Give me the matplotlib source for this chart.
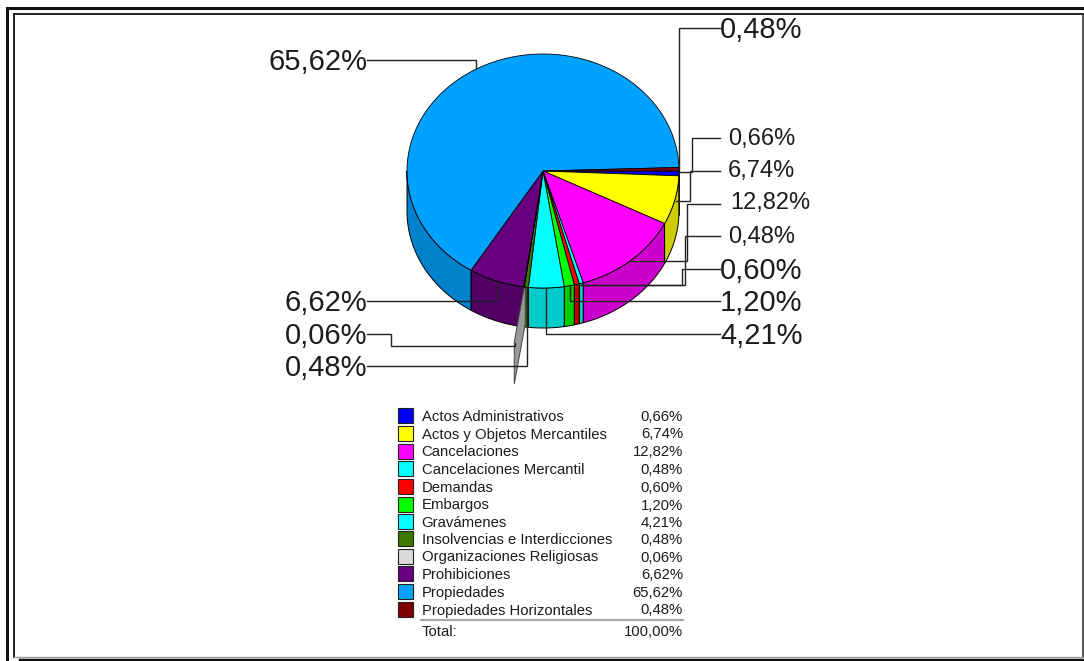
import numpy as np
import matplotlib
matplotlib.use('Agg')
import matplotlib.pyplot as plt
from matplotlib.patches import Polygon, Rectangle

plt.rcParams['font.family'] = ['Liberation Sans', 'DejaVu Sans']

# Data
categories = ['Actos Administrativos', 'Actos y Objetos Mercantiles', 'Cancelaciones',
              'Cancelaciones Mercantil', 'Demandas', 'Embargos', 'Gravámenes',
              'Insolvencias e Interdicciones', 'Organizaciones Religiosas',
              'Prohibiciones', 'Propiedades', 'Propiedades Horizontales']
values = [0.66, 6.74, 12.82, 0.48, 0.60, 1.20, 4.21, 0.48, 0.06, 6.62, 65.62, 0.48]
colors = [(0, 0, 1), (1, 1, 0), (1, 0, 1), (0, 1, 1), (1, 0, 0), (0, 1, 0), (0, 1, 1),
          (0.24, 0.47, 0), (0.86, 0.86, 0.86), (0.4, 0, 0.5), (0, 0.63, 1), (0.5, 0, 0)]
total_label = '100,00%'

# Layout
cx, cy, rx, ry, depth = 543, 171, 136, 117, 40
ink = '#1c1c1c'


def pct(v):
    return f'{v:.2f}'.replace('.', ',') + '%'


def rim(a0, a1, n=60):
    t = np.radians(np.linspace(a0, a1, n))
    return np.column_stack([cx + rx * np.cos(t), cy + ry * np.sin(t)])


fig = plt.figure(figsize=(10.84, 6.61), dpi=100)
ax = fig.add_axes([0, 0, 1, 1])
ax.set_xlim(0, 1084)
ax.set_ylim(661, 0)
ax.axis('off')

# page frame, it runs off the image on the right and bottom
ax.plot([6.5, 6.5, 1084], [661, 7.5, 7.5], color='#111111', lw=2.2, solid_joinstyle='miter')
ax.plot([14, 14, 1084], [656.5, 14, 14], color='#222222', lw=1.4, solid_joinstyle='miter')
ax.plot([1083, 1083], [14, 657], color='#333333', lw=1.2)
ax.plot([14, 1083], [656.5, 656.5], color='#999999', lw=1.0)
ax.plot([20, 1084], [660, 660], color='#111111', lw=2.5)

edges = np.concatenate([[0], np.cumsum(values)]) / sum(values) * 360

# side walls, only the front half shows
for i, col in enumerate(colors):
    a0, a1 = edges[i], min(edges[i + 1], 180)
    if a0 >= 180:
        continue
    top = rim(a0, a1)
    low = top[::-1] + [0, depth]
    side = tuple(c * 0.8 for c in col)
    ax.add_patch(Polygon(np.vstack([top, low]), fc=side, ec='black', lw=0.7, zorder=2))

# the thin gray shard under Organizaciones Religiosas
p = rim(edges[8], edges[8], 1)[0]
shard = p + np.array([[0, 0], [-10, 55], [-10, 97], [1, 37], [1, 0]])
ax.add_patch(Polygon(shard, fc='#999999', ec='#444444', lw=0.7, zorder=3))

# top faces
for i, col in enumerate(colors):
    pts = np.vstack([[cx, cy], rim(edges[i], edges[i + 1], 200)])
    ax.add_patch(Polygon(pts, fc=col, ec='black', lw=0.6, zorder=4))

# labels with leader paths, same order as values
leaders = [
    (1, 728, 137, 'left', 17, [(720, 138), (692, 138), (692, 172), (679, 172)]),
    (2, 728, 169, 'left', 17, [(720, 171), (690, 171), (690, 201), (676, 201)]),
    (3, 730, 201, 'left', 17, [(720, 204), (687, 204), (687, 261), (631, 261)]),
    (4, 728, 234, 'left', 17, [(720, 236), (685, 236), (685, 285), (582, 285)]),
    (5, 720, 268, 'left', 21, [(720, 269), (682, 269), (682, 285), (577, 285)]),
    (6, 720, 300, 'left', 21, [(720, 301), (570, 301), (570, 287)]),
    (7, 720, 333, 'left', 21, [(720, 334), (546, 334), (546, 289)]),
    (8, 367, 365, 'right', 21, [(367, 366), (527, 366), (527, 288)]),
    (9, 367, 333, 'right', 21, [(367, 334), (391, 334), (391, 346), (515, 346), (515, 343)]),
    (10, 367, 300, 'right', 21, [(367, 301), (497, 301), (497, 283)]),
    (11, 367, 59, 'right', 21, [(367, 60), (476, 60), (476, 68)]),
    (12, 720, 27, 'left', 21, [(720, 28), (679, 28), (679, 170)]),
]
for idx, x, y, ha, size, path in leaders:
    xs, ys = zip(*path)
    ax.plot(xs, ys, color='#222222', lw=1.0, zorder=5, solid_joinstyle='miter')
    ax.text(x, y, pct(values[idx - 1]), fontsize=size, color=ink, ha=ha, va='center_baseline', zorder=6)

# legend table
rows = [415.5, 433, 451, 468.5, 486, 504, 521.5, 538, 556, 573.5, 591.5, 609]
for name, v, col, y in zip(categories, values, colors, rows):
    ax.add_patch(Rectangle((398, y - 7.5), 15, 15, fc=col, ec='#222222', lw=0.8))
    ax.text(421.5, y, name, fontsize=10.7, color=ink, va='center_baseline')
    ax.text(683, y, pct(v), fontsize=10.7, color=ink, ha='right', va='center_baseline')
ax.plot([421, 683], [620, 620], color='#aaaaaa', lw=1.6)
ax.text(421.5, 631, 'Total:', fontsize=10.7, color=ink, va='center_baseline')
ax.text(683, 631, total_label, fontsize=10.7, color=ink, ha='right', va='center_baseline')

fig.savefig('out.png', dpi=100)
